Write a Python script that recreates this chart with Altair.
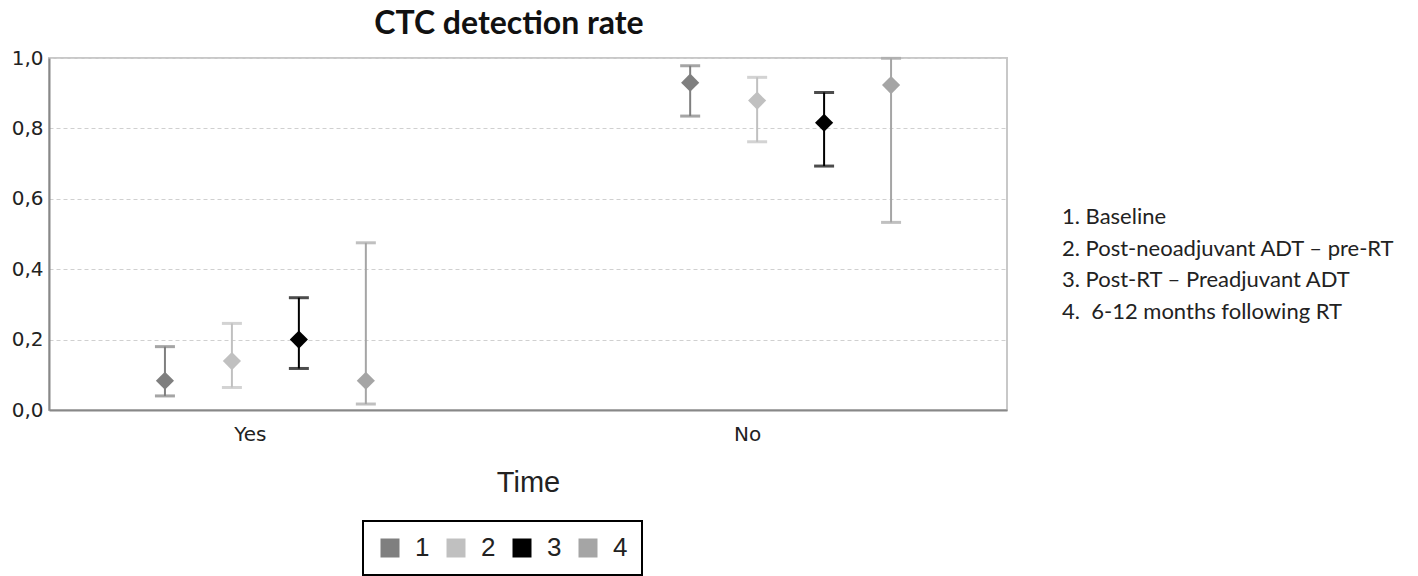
import altair as alt
import pandas as pd

groups = ["Yes", "No"]
series = ["1", "2", "3", "4"]
mid_yes = [0.083, 0.139, 0.200, 0.083]
lo_yes = [0.040, 0.064, 0.118, 0.017]
hi_yes = [0.180, 0.246, 0.319, 0.475]
mid_no = [0.930, 0.879, 0.816, 0.923]
lo_no = [0.835, 0.762, 0.693, 0.533]
hi_no = [0.978, 0.945, 0.902, 0.999]
colors = ["#7f7f7f", "#c0c0c0", "#000000", "#a5a5a5"]
notes = ["1. Baseline", "2. Post-neoadjuvant ADT \u2013 pre-RT",
         "3. Post-RT \u2013 Preadjuvant ADT", "4.\u00a0 6-12 months following RT"]

rows = []
for g, mids, los, his in [("Yes", mid_yes, lo_yes, hi_yes), ("No", mid_no, lo_no, hi_no)]:
    for s, m, l, h in zip(series, mids, los, his):
        rows.append({"group": g, "series": s, "mid": m, "lo": l, "hi": h})
df = pd.DataFrame(rows)

font = "DejaVu Sans"
x = alt.X("group:N", sort=groups, scale=alt.Scale(paddingInner=0.49, paddingOuter=0.157),
          axis=alt.Axis(title="Time", labelAngle=0, labelFontSize=20, labelFont=font,
                        labelColor="#222", titleFont="Liberation Sans", titleFontSize=29,
                        titleFontWeight="normal", titleColor="#222", titlePadding=24,
                        ticks=False, grid=False, domainColor="#888", domainWidth=2,
                        labelPadding=14,
                        labelOffset={"condition": {"test": "datum.value == 'Yes'", "value": -15},
                                     "value": -43}))
xo = alt.XOffset("series:N", sort=series,
                 scale=alt.Scale(paddingOuter=0, paddingInner=0))
ysc = alt.Scale(domain=[0, 1])
color = alt.Color("series:N", sort=series, scale=alt.Scale(domain=series, range=colors),
                  legend=alt.Legend(title=None, orient="none", direction="horizontal",
                                    legendX=314, legendY=463, strokeColor="black",
                                    padding=14, symbolType="square",
                                    symbolSize=361, symbolStrokeWidth=0, labelFontSize=26,
                                    labelFont="Liberation Sans", labelColor="#222",
                                    labelOffset=12, columnPadding=13, symbolOpacity=1))

base = alt.Chart(df)
rule = base.mark_rule(strokeWidth=2).encode(
    x=x, xOffset=xo,
    y=alt.Y("lo:Q", scale=ysc, axis=alt.Axis(
        title=None, values=[0, 0.2, 0.4, 0.6, 0.8, 1.0], format=".1f",
        labelExpr="replace(datum.label, '.', ',')", labelFontSize=20, labelFont=font,
        labelColor="#222", ticks=False, grid=True, domainColor="#888", domainWidth=2,
        gridDash=[4, 3], gridColor="#d0d0d0", labelPadding=6)),
    y2="hi:Q", color=color)
cap_lo = base.mark_tick(thickness=3, size=20).encode(
    x=x, xOffset=xo, y=alt.Y("lo:Q", scale=ysc), color=color)
cap_hi = base.mark_tick(thickness=3, size=20).encode(
    x=x, xOffset=xo, y=alt.Y("hi:Q", scale=ysc), color=color)
pts = base.mark_point(shape="diamond", filled=True, size=330, opacity=1).encode(
    x=x, xOffset=xo, y=alt.Y("mid:Q", scale=ysc), color=color)

note_df = pd.DataFrame({"t": notes, "i": list(range(len(notes)))})
note_layer = alt.Chart(note_df).mark_text(
    align="left", baseline="middle", font="Lato", fontSize=22, color="#222",
    clip=False).encode(
    x=alt.value(1013),
    y=alt.Y("i:O", axis=None, scale=alt.Scale(type="point", range=[159, 254], padding=0)),
    text="t:N")

plot = alt.layer(rule, cap_lo, cap_hi, pts)
chart = alt.layer(plot, note_layer).resolve_scale(y="independent").properties(
    width=958, height=352,
    title=alt.TitleParams("CTC detection rate", fontSize=32, font="Lato", fontWeight="bold",
                          color="#111", anchor="middle", dx=-19, offset=7),
    autosize=alt.AutoSizeParams(type="none"),
    padding={"left": 41, "top": 50, "right": 403, "bottom": 166},
).configure_view(stroke="#c8c8c8", strokeWidth=2).configure_legend(strokeWidth=2)

chart.save("out.html", embed_options={"renderer": "svg", "actions": False})
